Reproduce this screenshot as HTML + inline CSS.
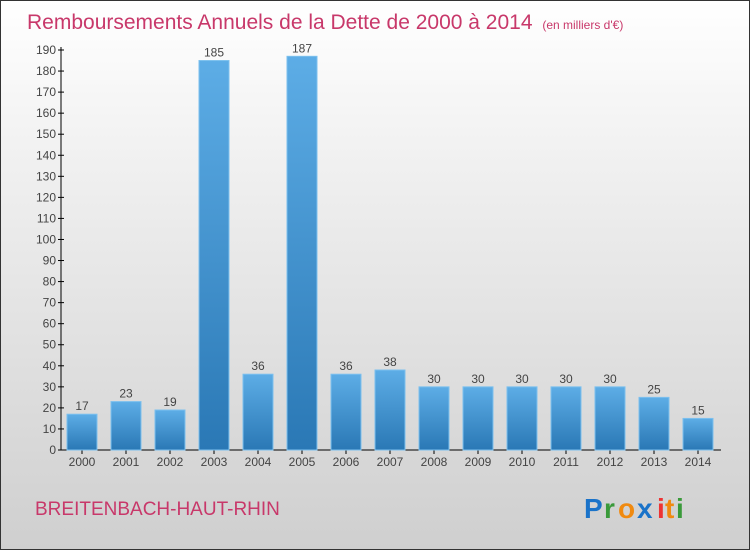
<!DOCTYPE html>
<html><head><meta charset="utf-8"><style>
body{margin:0;width:750px;height:550px;overflow:hidden;font-family:"Liberation Sans",sans-serif}
#wrap{position:absolute;left:0;top:0;width:748px;height:548px;border:1px solid #333;background:linear-gradient(#fff,#f0f0f0 30%,#cfcfcf)}
</style></head><body>
<div id="wrap">
<svg width="748" height="548">
<defs><linearGradient id="bg" x1="0" y1="0" x2="0" y2="1"><stop offset="0" stop-color="#5dade6"/><stop offset="1" stop-color="#2a78b5"/></linearGradient></defs>
<text x="26" y="28" font-size="21" fill="#c8386a">Remboursements Annuels de la Dette de 2000 à 2014 <tspan font-size="12" dx="4">(en milliers d'€)</tspan></text>
<g id="axes"></g><g id="bars"></g>
<text x="34" y="514" font-size="19" fill="#c8386a">BREITENBACH-HAUT-RHIN</text>
<g font-size="28" font-weight="bold"><text x="583" y="517" fill="#1a73c9">P</text><text x="603" y="517" fill="#3a9a3a">r</text><text x="617" y="517" fill="#f08a10">o</text><text x="636" y="517" fill="#1a73c9">x</text><text x="656" y="517" fill="#e33">i</text><text x="664" y="517" fill="#f08a10">t</text><text x="675" y="517" fill="#3a9a3a">i</text></g>
</svg></div>
<script>
const years=["2000","2001","2002","2003","2004","2005","2006","2007","2008","2009","2010","2011","2012","2013","2014"];
const values=[17,23,19,185,36,187,36,38,30,30,30,30,30,25,15];
const yTicks=[0,10,20,30,40,50,60,70,80,90,100,110,120,130,140,150,160,170,180,190];
const ns="http://www.w3.org/2000/svg";
const y0=449,yTop=49,yMax=190,x0=81,step=44,bw=30;
const Y=v=>y0-(y0-yTop)*v/yMax, X=i=>x0+i*step;
const ax=document.getElementById('axes'),bg=document.getElementById('bars');
function mk(t,a,p){const e=document.createElementNS(ns,t);for(const k in a)e.setAttribute(k,a[k]);p.appendChild(e);return e;}
let l=mk('line',{x1:60,y1:yTop-3,x2:60,y2:y0,stroke:'#000'},ax);


l=mk('line',{x1:60,y1:y0,x2:720,y2:y0,stroke:'#000'},ax);


yTicks.forEach(v=>{const y=Y(v);mk('line',{x1:57,y1:y,x2:63,y2:y,stroke:'#000'},ax);
const t=mk('text',{x:55,y:y+4,'font-size':12,fill:'#444','text-anchor':'end'},ax);t.textContent=v;

});
years.forEach((yr,i)=>{const cx=X(i),v=values[i];
mk('line',{x1:cx,y1:y0,x2:cx,y2:y0+4,stroke:'#000'},ax);
const t=mk('text',{x:cx,y:y0+16,'font-size':12,fill:'#444','text-anchor':'middle'},ax);t.textContent=yr;


const r=mk('rect',{x:cx-bw/2,y:Y(v),width:bw,height:y0-Y(v),fill:'url(#bg)',stroke:'#7cc0ee','stroke-width':1},bg);


const vl=mk('text',{x:cx,y:Y(v)-4,'font-size':12,fill:'#444','text-anchor':'middle'},bg);vl.textContent=v;

});
</script>
</body></html>
